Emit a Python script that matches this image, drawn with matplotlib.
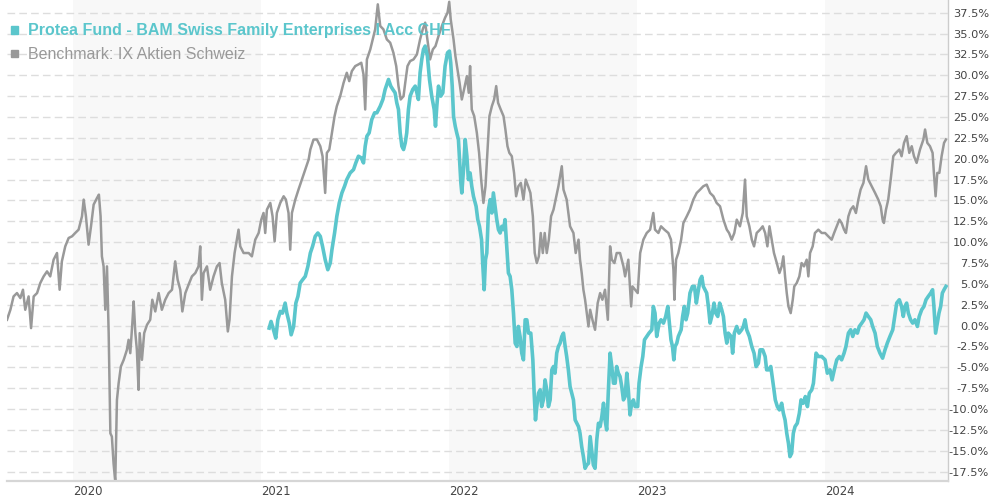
import matplotlib
matplotlib.use("Agg")
import matplotlib.pyplot as plt
from matplotlib.patches import Rectangle

# time axis in fractional years, values in % performance
bench_t = [
    2019.649, 2019.667, 2019.684, 2019.702, 2019.720, 2019.734, 2019.746, 2019.764, 2019.777, 2019.791,
    2019.809, 2019.826, 2019.844, 2019.862, 2019.879, 2019.897, 2019.915, 2019.929, 2019.941, 2019.959,
    2019.977, 2019.995, 2020.012, 2020.030, 2020.048, 2020.057, 2020.069, 2020.083, 2020.096, 2020.110,
    2020.128, 2020.138, 2020.147, 2020.154, 2020.163, 2020.172, 2020.181, 2020.190, 2020.199, 2020.207,
    2020.216, 2020.225, 2020.234, 2020.243, 2020.255, 2020.270, 2020.287, 2020.296, 2020.305, 2020.316,
    2020.323, 2020.332, 2020.340, 2020.349, 2020.355, 2020.367, 2020.379, 2020.394, 2020.411, 2020.422,
    2020.438, 2020.456, 2020.473, 2020.491, 2020.509, 2020.527, 2020.544, 2020.557, 2020.571, 2020.582,
    2020.598, 2020.615, 2020.633, 2020.651, 2020.668, 2020.677, 2020.686, 2020.695, 2020.713, 2020.730,
    2020.748, 2020.766, 2020.780, 2020.792, 2020.810, 2020.824, 2020.833, 2020.846, 2020.860, 2020.872,
    2020.881, 2020.890, 2020.908, 2020.935, 2020.952, 2020.970, 2020.988, 2021.002, 2021.014, 2021.023,
    2021.032, 2021.050, 2021.062, 2021.073, 2021.085, 2021.103, 2021.121, 2021.133, 2021.147, 2021.156,
    2021.165, 2021.183, 2021.200, 2021.218, 2021.236, 2021.254, 2021.263, 2021.280, 2021.298, 2021.316,
    2021.328, 2021.342, 2021.351, 2021.364, 2021.378, 2021.392, 2021.404, 2021.422, 2021.440, 2021.457,
    2021.470, 2021.484, 2021.502, 2021.519, 2021.534, 2021.546, 2021.555, 2021.564, 2021.582, 2021.599,
    2021.608, 2021.622, 2021.635, 2021.652, 2021.670, 2021.688, 2021.705, 2021.720, 2021.732, 2021.744,
    2021.759, 2021.768, 2021.780, 2021.794, 2021.812, 2021.830, 2021.847, 2021.861, 2021.874, 2021.886,
    2021.900, 2021.915, 2021.929, 2021.945, 2021.963, 2021.980, 2021.993, 2022.002, 2022.010, 2022.025,
    2022.035, 2022.046, 2022.057, 2022.069, 2022.081, 2022.096, 2022.106, 2022.113, 2022.122, 2022.135,
    2022.149, 2022.161, 2022.172, 2022.184, 2022.195, 2022.206, 2022.216, 2022.229, 2022.241, 2022.252,
    2022.262, 2022.276, 2022.291, 2022.301, 2022.312, 2022.322, 2022.335, 2022.347, 2022.358, 2022.370,
    2022.383, 2022.397, 2022.409, 2022.422, 2022.434, 2022.447, 2022.457, 2022.468, 2022.479, 2022.489,
    2022.500, 2022.510, 2022.521, 2022.532, 2022.544, 2022.557, 2022.583, 2022.601, 2022.610, 2022.627,
    2022.645, 2022.663, 2022.675, 2022.690, 2022.698, 2022.707, 2022.716, 2022.725, 2022.734, 2022.743,
    2022.752, 2022.764, 2022.778, 2022.792, 2022.805, 2022.817, 2022.831, 2022.846, 2022.858, 2022.867,
    2022.881, 2022.893, 2022.911, 2022.929, 2022.938, 2022.955, 2022.970, 2022.977, 2022.991, 2023.005,
    2023.018, 2023.035, 2023.053, 2023.071, 2023.088, 2023.097, 2023.115, 2023.129, 2023.147, 2023.168,
    2023.182, 2023.195, 2023.200, 2023.209, 2023.221, 2023.236, 2023.248, 2023.266, 2023.283, 2023.301,
    2023.319, 2023.337, 2023.354, 2023.372, 2023.390, 2023.408, 2023.425, 2023.443, 2023.461, 2023.479,
    2023.491, 2023.505, 2023.519, 2023.532, 2023.549, 2023.564, 2023.576, 2023.585, 2023.599, 2023.612,
    2023.624, 2023.638, 2023.656, 2023.670, 2023.683, 2023.695, 2023.706, 2023.718, 2023.730, 2023.745,
    2023.759, 2023.771, 2023.780, 2023.789, 2023.798, 2023.807, 2023.819, 2023.830, 2023.838, 2023.851,
    2023.865, 2023.877, 2023.890, 2023.904, 2023.913, 2023.922, 2023.936, 2023.948, 2023.966, 2023.984,
    2024.002, 2024.019, 2024.037, 2024.050, 2024.064, 2024.078, 2024.090, 2024.103, 2024.113, 2024.126,
    2024.138, 2024.152, 2024.166, 2024.179, 2024.191, 2024.206, 2024.220, 2024.232, 2024.250, 2024.268,
    2024.285, 2024.298, 2024.308, 2024.315, 2024.326, 2024.338, 2024.351, 2024.365, 2024.379, 2024.397,
    2024.409, 2024.422, 2024.436, 2024.450, 2024.463, 2024.475, 2024.489, 2024.507, 2024.525, 2024.534,
    2024.546, 2024.560, 2024.574, 2024.581, 2024.590, 2024.599, 2024.610, 2024.622, 2024.635, 2024.645,
]
bench_v = [
    0.7, 1.9, 3.5, 3.9, 3.3, 4.3, 1.9, 3.5, -0.3, 3.5,
    3.9, 5.1, 5.9, 6.5, 5.9, 7.9, 8.7, 4.3, 7.7, 9.5,
    10.5, 10.7, 11.1, 11.5, 13.1, 15.1, 13.1, 9.7, 11.9, 14.5,
    15.3, 15.7, 13.1, 8.3, 7.1, 1.9, 7.1, -0.9, -12.9, -13.3,
    -16.5, -18.7, -8.9, -6.9, -4.9, -4.1, -2.9, -1.7, -3.3, 0.3,
    2.9, -0.9, -2.9, -7.7, -0.9, -4.1, -0.9, 0.1, 0.7, 3.1,
    1.7, 3.9, 1.9, 3.1, 3.9, 4.3, 7.7, 5.5, 4.3, 1.7,
    3.9, 4.9, 5.9, 6.3, 7.1, 9.5, 3.1, 6.3, 7.1, 4.3,
    5.9, 7.1, 7.5, 5.1, 3.1, -0.7, 0.7, 5.9, 8.7, 10.3,
    11.5, 9.5, 8.7, 8.7, 8.3, 10.3, 11.1, 12.7, 13.5, 11.1,
    13.9, 14.7, 13.1, 10.1, 13.5, 14.7, 15.5, 15.1, 13.5, 9.1,
    13.5, 15.1, 16.3, 17.5, 18.7, 19.9, 21.1, 22.3, 22.3, 21.5,
    20.3, 15.9, 20.7, 21.1, 23.1, 25.1, 26.3, 27.5, 29.1, 30.3,
    29.3, 30.5, 31.1, 31.3, 31.5, 30.1, 25.9, 31.9, 33.1, 34.7,
    35.5, 38.5, 35.9, 35.5, 34.3, 33.9, 32.7, 31.1, 28.7, 27.1,
    27.5, 29.1, 31.1, 31.7, 31.9, 32.5, 34.3, 35.5, 36.3, 34.3,
    31.9, 33.1, 33.5, 34.7, 35.9, 36.9, 37.5, 38.8, 36.7, 34.3,
    32.3, 30.7, 29.1, 27.1, 28.3, 29.9, 27.9, 31.1, 25.9, 25.1,
    23.1, 20.7, 17.5, 14.7, 16.7, 21.1, 25.1, 26.3, 27.1, 28.7,
    26.7, 25.9, 25.1, 23.5, 21.5, 20.7, 20.3, 18.3, 15.5, 16.7,
    17.1, 15.1, 17.5, 16.7, 15.9, 13.1, 8.7, 7.5, 8.3, 11.1,
    8.7, 11.1, 8.7, 10.3, 13.1, 13.9, 16.7, 19.1, 16.3, 15.1,
    11.9, 11.1, 8.7, 10.3, 7.9, 6.3, 4.3, 3.1, 1.5, -0.1,
    1.9, 0.7, -0.5, 2.7, 3.9, 3.1, 4.3, 0.7, 9.5, 7.9,
    7.5, 8.7, 8.7, 7.1, 5.9, 7.9, 2.3, 4.7, 4.3, 3.9,
    8.7, 10.3, 11.1, 11.5, 13.5, 11.5, 11.1, 11.9, 11.5, 11.1,
    10.3, 6.7, 3.1, 7.9, 8.7, 10.3, 12.3, 13.1, 13.9, 15.1,
    15.9, 16.3, 16.7, 16.9, 15.9, 15.5, 14.7, 14.3, 12.7, 11.5,
    11.1, 10.3, 11.1, 12.7, 11.9, 13.5, 17.5, 13.1, 11.9, 10.3,
    9.5, 11.1, 11.5, 11.9, 11.1, 9.5, 11.9, 10.3, 8.7, 7.5,
    6.3, 7.1, 8.3, 5.9, 3.9, 2.3, 1.5, 3.1, 4.7, 5.1,
    5.9, 7.5, 7.1, 7.9, 5.9, 8.7, 9.5, 11.1, 11.5, 11.1,
    11.1, 10.7, 10.3, 11.1, 11.9, 12.7, 12.3, 11.5, 11.1, 13.1,
    13.9, 14.3, 13.5, 15.1, 16.3, 17.1, 19.1, 17.5, 16.7, 15.9,
    15.1, 14.3, 12.7, 12.3, 13.9, 15.1, 17.5, 20.3, 20.7, 21.1,
    20.3, 21.9, 22.7, 20.7, 21.5, 20.3, 19.5, 21.1, 22.3, 23.5,
    21.9, 21.5, 20.7, 18.3, 15.5, 18.3, 18.3, 20.3, 21.9, 22.3,
]

fund_t = [
    2021.044, 2021.054, 2021.067, 2021.079, 2021.090, 2021.103, 2021.115, 2021.129, 2021.138, 2021.151,
    2021.161, 2021.174, 2021.186, 2021.197, 2021.209, 2021.222, 2021.236, 2021.250, 2021.263, 2021.275,
    2021.289, 2021.303, 2021.316, 2021.328, 2021.342, 2021.356, 2021.369, 2021.378, 2021.392, 2021.404,
    2021.417, 2021.431, 2021.445, 2021.457, 2021.475, 2021.493, 2021.505, 2021.519, 2021.534, 2021.546,
    2021.555, 2021.564, 2021.576, 2021.590, 2021.605, 2021.617, 2021.635, 2021.649, 2021.661, 2021.679,
    2021.691, 2021.702, 2021.714, 2021.723, 2021.732, 2021.741, 2021.750, 2021.759, 2021.768, 2021.776,
    2021.785, 2021.794, 2021.808, 2021.821, 2021.830, 2021.838, 2021.847, 2021.856, 2021.865, 2021.874,
    2021.886, 2021.897, 2021.909, 2021.922, 2021.929, 2021.936, 2021.945, 2021.957, 2021.968, 2021.980,
    2021.993, 2022.003, 2022.010, 2022.018, 2022.025, 2022.034, 2022.042, 2022.051, 2022.057, 2022.064,
    2022.069, 2022.078, 2022.087, 2022.096, 2022.104, 2022.113, 2022.122, 2022.131, 2022.145, 2022.154,
    2022.163, 2022.174, 2022.181, 2022.188, 2022.195, 2022.202, 2022.211, 2022.220, 2022.229, 2022.237,
    2022.246, 2022.255, 2022.264, 2022.273, 2022.282, 2022.291, 2022.299, 2022.308, 2022.317, 2022.326,
    2022.335, 2022.344, 2022.353, 2022.362, 2022.370, 2022.379, 2022.388, 2022.397, 2022.406, 2022.415,
    2022.424, 2022.436, 2022.447, 2022.454, 2022.461, 2022.468, 2022.477, 2022.486, 2022.494, 2022.503,
    2022.512, 2022.521, 2022.530, 2022.539, 2022.548, 2022.557, 2022.565, 2022.574, 2022.583, 2022.592,
    2022.601, 2022.610, 2022.619, 2022.627, 2022.636, 2022.645, 2022.654, 2022.663, 2022.672, 2022.681,
    2022.690, 2022.698, 2022.707, 2022.716, 2022.725, 2022.734, 2022.743, 2022.752, 2022.760, 2022.769,
    2022.778, 2022.787, 2022.796, 2022.805, 2022.814, 2022.823, 2022.831, 2022.840, 2022.849, 2022.858,
    2022.867, 2022.876, 2022.885, 2022.893, 2022.902, 2022.911, 2022.920, 2022.929, 2022.938, 2022.947,
    2022.955, 2022.964, 2022.973, 2022.982, 2022.991, 2023.005, 2023.012, 2023.023, 2023.032, 2023.041,
    2023.053, 2023.065, 2023.080, 2023.088, 2023.097, 2023.106, 2023.119, 2023.129, 2023.142, 2023.154,
    2023.165, 2023.172, 2023.182, 2023.190, 2023.197, 2023.204, 2023.213, 2023.221, 2023.236, 2023.244,
    2023.253, 2023.262, 2023.271, 2023.283, 2023.296, 2023.307, 2023.317, 2023.328, 2023.337, 2023.346,
    2023.354, 2023.363, 2023.372, 2023.381, 2023.390, 2023.399, 2023.411, 2023.420, 2023.431, 2023.441,
    2023.452, 2023.461, 2023.470, 2023.479, 2023.487, 2023.502, 2023.510, 2023.519, 2023.532, 2023.544,
    2023.558, 2023.567, 2023.576, 2023.585, 2023.599, 2023.612, 2023.624, 2023.635, 2023.647, 2023.656,
    2023.670, 2023.683, 2023.691, 2023.702, 2023.713, 2023.723, 2023.730, 2023.737, 2023.748, 2023.759,
    2023.771, 2023.780, 2023.789, 2023.798, 2023.807, 2023.815, 2023.824, 2023.833, 2023.842, 2023.854,
    2023.865, 2023.874, 2023.886, 2023.897, 2023.908, 2023.918, 2023.931, 2023.940, 2023.954, 2023.966,
    2023.984, 2024.002, 2024.014, 2024.028, 2024.039, 2024.051, 2024.064, 2024.078, 2024.090, 2024.103,
    2024.113, 2024.126, 2024.138, 2024.149, 2024.161, 2024.174, 2024.184, 2024.197, 2024.209, 2024.220,
    2024.232, 2024.245, 2024.255, 2024.268, 2024.280, 2024.294, 2024.308, 2024.321, 2024.333, 2024.347,
    2024.362, 2024.370, 2024.383, 2024.397, 2024.409, 2024.418, 2024.427, 2024.436, 2024.445, 2024.457,
    2024.468, 2024.480, 2024.493, 2024.503, 2024.516, 2024.528, 2024.539, 2024.551, 2024.564, 2024.574,
    2024.581, 2024.590, 2024.599, 2024.608, 2024.617, 2024.626, 2024.635, 2024.645,
]
fund_v = [
    -0.3, 0.5, -0.5, -1.5, 0.7, 1.7, 1.5, 2.7, 1.5, 0.3,
    -1.1, -0.1, 2.7, 3.5, 5.1, 5.5, 5.9, 7.1, 8.7, 9.5,
    10.7, 11.1, 10.7, 9.5, 7.9, 6.7, 7.5, 9.1, 11.1, 13.1,
    14.7, 15.9, 16.7, 17.5, 18.3, 18.7, 19.5, 20.3, 20.1, 19.5,
    21.5, 22.7, 23.1, 24.7, 25.5, 25.5, 26.3, 27.1, 28.3, 29.5,
    28.7, 28.3, 27.9, 26.7, 25.9, 23.1, 21.5, 21.1, 21.9, 23.1,
    25.9, 27.5, 28.3, 28.7, 27.9, 27.1, 30.3, 31.9, 33.1, 33.5,
    32.3, 29.5, 27.5, 25.9, 23.9, 26.3, 28.7, 27.5, 27.9, 31.1,
    32.7, 32.9, 31.5, 28.7, 25.1, 23.9, 23.1, 22.3, 19.9, 17.1,
    15.9, 18.7, 22.3, 20.3, 17.5, 18.3, 16.7, 15.5, 14.3, 12.7,
    11.9, 10.3, 7.1, 4.3, 7.9, 8.7, 13.9, 15.1, 13.5, 15.9,
    14.3, 12.7, 11.5, 11.1, 11.9, 11.5, 12.7, 9.5, 6.3, 5.9,
    4.3, 1.5, -2.1, -2.5, -0.1, -1.3, -3.3, -4.1, 0.7, 0.7,
    -0.9, -0.9, -4.1, -8.1, -11.3, -9.7, -8.1, -7.7, -9.7, -8.9,
    -6.5, -7.7, -9.7, -8.9, -5.3, -4.9, -5.7, -3.3, -2.5, -2.1,
    -1.3, -0.9, -2.5, -3.7, -5.3, -7.3, -8.1, -8.9, -11.3, -11.7,
    -12.1, -12.9, -14.5, -15.7, -17.1, -16.7, -16.5, -13.3, -14.9, -16.7,
    -17.1, -13.7, -11.7, -12.1, -10.9, -9.3, -11.3, -12.5, -7.7, -3.3,
    -4.9, -6.9, -6.9, -4.9, -5.7, -6.1, -7.3, -8.9, -8.5, -5.7,
    -7.7, -10.7, -9.3, -8.9, -9.7, -9.7, -6.9, -4.9, -3.7, -1.7,
    -1.3, -0.9, -0.5, 2.3, 1.5, -1.3, 0.3, 0.7, 0.3, 1.1,
    2.3, 0.7, -1.7, -2.5, -4.1, -2.5, -2.1, -1.3, -0.5, 1.1,
    2.3, 0.7, 1.5, 3.9, 4.7, 4.7, 2.7, 4.3, 5.5, 5.9,
    4.7, 4.3, 3.9, 2.3, 0.3, 1.1, 2.7, 1.5, 1.1, 2.7,
    1.9, 1.1, -0.9, -2.1, -0.9, -1.3, -3.3, -0.9, -0.1, -0.9,
    -0.5, -0.1, 0.7, -0.5, -1.3, -2.5, -3.3, -4.9, -4.5, -2.9,
    -2.9, -3.7, -5.3, -5.3, -4.9, -6.5, -7.7, -8.9, -9.7, -10.1,
    -9.3, -10.5, -11.3, -12.9, -14.1, -15.7, -15.3, -12.9, -12.1, -11.7,
    -10.5, -8.9, -9.3, -8.5, -9.7, -8.1, -7.7, -6.9, -3.3, -3.7,
    -3.7, -4.1, -5.7, -5.3, -6.5, -5.3, -4.1, -3.7, -4.1, -3.3,
    -2.5, -0.9, -0.5, -1.3, -0.5, -0.9, -0.1, 0.3, 0.7, 1.5,
    1.1, 0.7, -0.1, -0.9, -2.5, -3.3, -3.9, -2.9, -2.1, -1.3,
    -0.5, 0.7, 2.7, 3.1, 2.3, 1.1, 2.3, 2.7, 1.5, 0.7,
    0.3, 0.7, -0.1, 1.1, 1.9, 2.3, 3.1, 3.5, 3.9, 4.3,
    2.3, -0.9, 0.3, 1.5, 2.3, 3.9, 4.3, 4.7,
]

year_ticks = [2020, 2021, 2022, 2023, 2024]
year_labels = ["2020", "2021", "2022", "2023", "2024"]
pct_ticks = [-17.5 + 2.5 * i for i in range(23)]

fund_name = "Protea Fund - BAM Swiss Family Enterprises I Acc CHF"
bench_name = "Benchmark: IX Aktien Schweiz"

teal = "#5bc6cc"
grey = "#999999"

W, H = 990, 500
fig = plt.figure(figsize=(W / 100, H / 100), dpi=100)
ax = fig.add_axes([7 / W, 19 / H, 941 / W, 481 / H])

x0, x1 = 2019.649, 2024.656
ax.set_xlim(x0, x1)
ax.set_ylim(-18.62, 39.02)

# alternating year shading
for a, b in [(2020, 2021), (2022, 2023), (2024, x1)]:
    ax.axvspan(a, b, color="#f8f8f8", zorder=0, lw=0)

ax.set_axisbelow(True)
ax.yaxis.grid(True, color="#dddddd", linestyle=(0, (5.5, 3)), linewidth=1.0)

ax.plot(bench_t, bench_v, color=grey, lw=1.8, zorder=2, solid_joinstyle="round")
ax.plot(fund_t, fund_v, color=teal, lw=2.6, zorder=3, solid_joinstyle="round")

ax.yaxis.tick_right()
ax.set_yticks(pct_ticks)
ax.set_yticklabels([f"{v:.1f}%" for v in pct_ticks])
for lab in ax.get_yticklabels():
    lab.set_horizontalalignment("right")
ax.tick_params(axis="y", length=0, pad=29.5, labelsize=8.2, labelcolor="#444444")

ax.set_xticks(year_ticks)
ax.set_xticklabels(year_labels)
for lab in ax.get_xticklabels():
    lab.set_horizontalalignment("left")
ax.tick_params(axis="x", length=0, pad=3, labelsize=8.4, labelcolor="#444444")

for s in ["left", "top"]:
    ax.spines[s].set_visible(False)
ax.spines["right"].set_color("#cccccc")
ax.spines["right"].set_linewidth(1.0)
ax.spines["bottom"].set_color("#d6d6d6")
ax.spines["bottom"].set_linewidth(1.6)

# legend
fig.add_artist(Rectangle((10.5 / W, 1 - 33.5 / H), 7 / W, 7 / H, transform=fig.transFigure,
                         color=teal, zorder=5))
fig.add_artist(Rectangle((10.5 / W, 1 - 57 / H), 7 / W, 7 / H, transform=fig.transFigure,
                         color=grey, zorder=5))
fig.text(28 / W, 1 - 35 / H, fund_name, fontfamily="Liberation Sans", fontweight="bold",
         fontsize=11.5, color=teal, va="baseline", zorder=6)
fig.text(28 / W, 1 - 59 / H, bench_name, fontfamily="Liberation Sans",
         fontsize=11.5, color=grey, va="baseline", zorder=6)

fig.savefig("out.png", dpi=100)
